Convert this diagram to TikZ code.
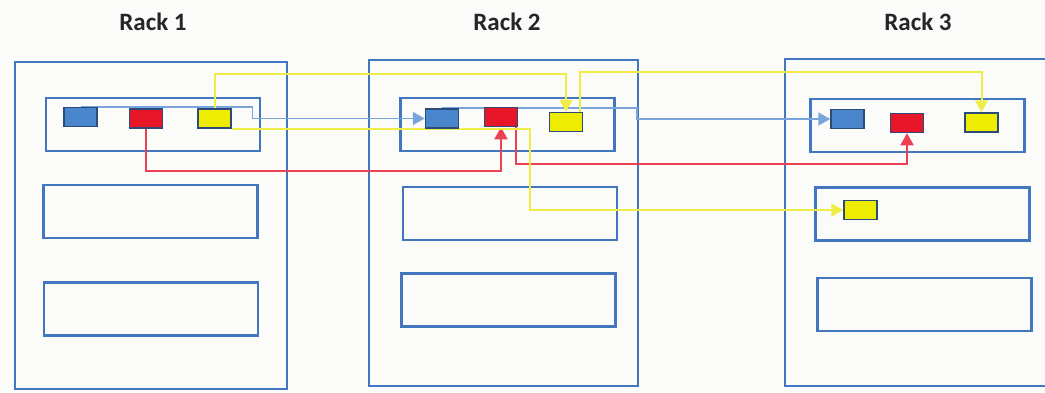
\documentclass[tikz,border=0pt]{standalone}
\usepackage{fontspec}
\setmainfont{Carlito}
\usepackage{xcolor}
\usepackage{tikz}
\usetikzlibrary{arrows.meta, positioning}

\definecolor{frameblue}{RGB}{66,118,190}
\definecolor{boxblue}{RGB}{74,134,204}
\definecolor{boxred}{RGB}{230,22,40}
\definecolor{boxyellow}{RGB}{238,236,0}
\definecolor{edgedark}{RGB}{45,75,120}
\definecolor{linered}{RGB}{236,64,84}
\definecolor{lineyellow}{RGB}{240,238,70}
\definecolor{lineblue}{RGB}{120,165,220}
\definecolor{paper}{RGB}{251,251,249}

\begin{document}
\begin{tikzpicture}[
    x=1pt, y=-1pt,
    rack/.style={rectangle, draw=frameblue, line width=2.6pt, minimum width=270pt, minimum height=327pt},
    slot/.style={rectangle, draw=frameblue, line width=2.3pt, minimum width=214pt, minimum height=53pt},
    vm/.style={rectangle, draw=edgedark, line width=1.5pt, minimum width=33pt, minimum height=19pt, inner sep=0pt},
    vmblue/.style={vm, fill=boxblue},
    vmred/.style={vm, fill=boxred},
    vmyellow/.style={vm, fill=boxyellow},
    title/.style={font=\bfseries\fontsize{25}{27}\selectfont, text=black!85},
    bluearrow/.style={-{Triangle[length=12pt, width=13pt]}, draw=lineblue, line width=1.6pt},
    redarrow/.style={-{Triangle[length=12pt, width=13pt]}, draw=linered, line width=2pt},
    yellowarrow/.style={-{Triangle[length=12pt, width=13pt]}, draw=lineyellow, line width=2pt}
]
    \fill[paper] (0,0) rectangle (1045,392);
    \useasboundingbox (0,0) rectangle (1045,392);
    \clip (0,0) rectangle (1045,392);

    % racks
    \node[title] (title1) at (153,22) {Rack 1};
    \node[title] (title2) at (507,22) {Rack 2};
    \node[title] (title3) at (918,22) {Rack 3};

    \node[rack, minimum width=272pt] (rack1) at (151,225.5) {};
    \node[rack, minimum width=269pt, minimum height=326pt] (rack2) at (503.5,223) {};
    \node[rack, minimum height=327pt] (rack3) at (920,222.5) {};

    % slots
    \node[slot] (slot11) at (153,124.5) {};
    \node[slot] (slot12) at (150.5,211.5) {};
    \node[slot] (slot13) at (151,309) {};
    \node[slot] (slot21) at (507.5,124.5) {};
    \node[slot] (slot22) at (510,213.5) {};
    \node[slot] (slot23) at (508.5,300) {};
    \node[slot] (slot31) at (917.5,125.5) {};
    \node[slot] (slot32) at (922.5,214) {};
    \node[slot] (slot33) at (924.5,304.5) {};

    % vms
    \node[vmblue] (blue1) at (80.5,117) {};
    \node[vmred] (red1) at (146,118.5) {};
    \node[vmyellow] (yellow1) at (214.5,118.5) {};
    \node[vmblue] (blue2) at (442,118.5) {};
    \node[vmred] (red2) at (501,117) {};
    \node[vmyellow] (yellow2) at (566,122) {};
    \node[vmblue] (blue3) at (847.5,119) {};
    \node[vmred] (red3) at (907,123) {};
    \node[vmyellow] (yellow3) at (981.5,122.5) {};
    \node[vmyellow] (yellow4) at (860.5,210) {};

    % migrations
    \draw[bluearrow] (blue1.north) -- ++(172,0) |- (blue2.west);
    \draw[bluearrow] (blue2.north) -- ++(195,0) |- (blue3.west);
    \draw[redarrow] (red1.south) -- ++(0,42) -| (red2.south);
    \draw[redarrow] ([xshift=-2pt]red2.south east) -- ++(0,37) -| (red3.south);
    \draw[yellowarrow] (yellow1.north) -- ++(0,-34) -| (yellow2.north);
    \draw[yellowarrow] (yellow1.south east) -- ++(298,0) |- (yellow4.west);
    \draw[yellowarrow] ([xshift=-3pt]yellow2.north east) -- ++(0,-40) -| (yellow3.north);

    % vms on top of the lines
    \node[vmblue] at (blue1) {};
    \node[vmred] at (red1) {};
    \node[vmyellow] at (yellow1) {};
    \node[vmblue] at (blue2) {};
    \node[vmred] at (red2) {};
    \node[vmyellow] at (yellow2) {};
\end{tikzpicture}
\end{document}
